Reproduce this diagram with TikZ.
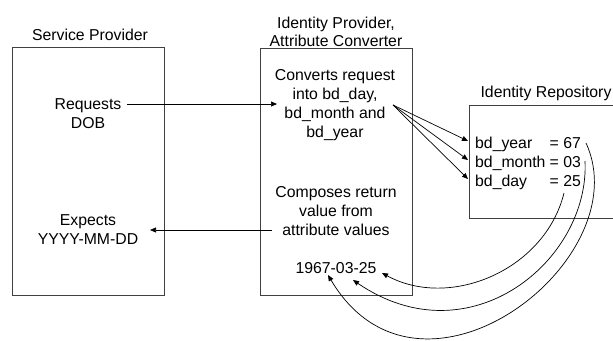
\documentclass[tikz,border=0pt]{standalone}
\usepackage{fontspec}
\setmainfont{Liberation Sans}
\usetikzlibrary{arrows.meta}
\begin{document}
\begin{tikzpicture}[x=1pt,y=-1pt,
  txt/.style={inner sep=0pt,anchor=base,font=\fontsize{15.8}{19}\selectfont},
  ltxt/.style={txt,anchor=base west},
  box/.style={draw=black!75,line width=1pt},
  arr/.style={draw=black,line width=0.7pt,-{Triangle[length=6pt,width=5pt]}},
  curv/.style={draw=black,line width=0.7pt,-{Triangle[length=6pt,width=5pt]}}]
\useasboundingbox (0,0) rectangle (613,340);
% boxes
\draw[box] (12,47) rectangle (164,295);
\draw[box] (260,48) rectangle (412,295);
\draw[box] (614,105) -- (469,105) -- (469,218) -- (614,218);
% titles
\node[txt] (sptitle) at (90,40.5) {Service Provider};
\node[txt] (idp1) at (336,28) {Identity Provider,};
\node[txt] (idp2) at (336,46) {Attribute Converter};
\node[txt] (irtitle) at (546,97.5) {Identity Repository};
% service provider texts
\node[txt] (req1) at (88,109.5) {Requests};
\node[txt] (req2) at (88,128) {DOB};
\node[txt] (exp1) at (88,225.5) {Expects};
\node[txt] (exp2) at (88,244) {YYYY-MM-DD};
% idp texts
\node[txt] (conv1) at (335,80.5) {Converts request};
\node[txt] (conv2) at (335,99.5) {into bd\_day,};
\node[txt] (conv3) at (335,118.5) {bd\_month and};
\node[txt] (conv4) at (335,137.5) {bd\_year};
\node[txt] (comp1) at (336,197.5) {Composes return};
\node[txt] (comp2) at (336,216.5) {value from};
\node[txt] (comp3) at (336,235.5) {attribute values};
\node[txt] (date) at (336,273.5) {1967-03-25};
% repository texts
\node[ltxt] (yr) at (475,148.5) {bd\_year};
\node[ltxt] (mo) at (475,167.5) {bd\_month};
\node[ltxt] (dy) at (475,186.5) {bd\_day};
\node[ltxt] (yrv) at (549.5,148.5) {= 67};
\node[ltxt] (mov) at (549.5,167.5) {= 03};
\node[ltxt] (dyv) at (549.5,186.5) {= 25};
% connector end points
\coordinate (reqS) at (127,104);
\coordinate (reqE) at (277,104);
\coordinate (expS) at (272,230);
\coordinate (expE) at (150,230);
\coordinate (fan) at (393,105);
\coordinate (yrE) at (468,141);
\coordinate (moE) at (468,160);
\coordinate (dyE) at (468,179);
\coordinate (dyS) at (564,193);
\coordinate (moS) at (585,161);
\coordinate (yrS) at (586,143);
\coordinate (dE) at (382,273);
\coordinate (mE) at (353,280);
\coordinate (yE) at (328,275);
% connectors
\draw[arr] (reqS) -- (reqE);
\draw[arr] (expS) -- (expE);
\draw[arr] (fan) -- (yrE);
\draw[arr] (fan) -- (moE);
\draw[arr] (fan) -- (dyE);
\draw[curv] (dyS) .. controls (545,270) and (450,310) .. (dE);
\draw[curv] (moS) .. controls (590,260) and (470,360) .. (mE);
\draw[curv] (yrS) .. controls (640,260) and (420,430) .. (yE);
\end{tikzpicture}
\end{document}
